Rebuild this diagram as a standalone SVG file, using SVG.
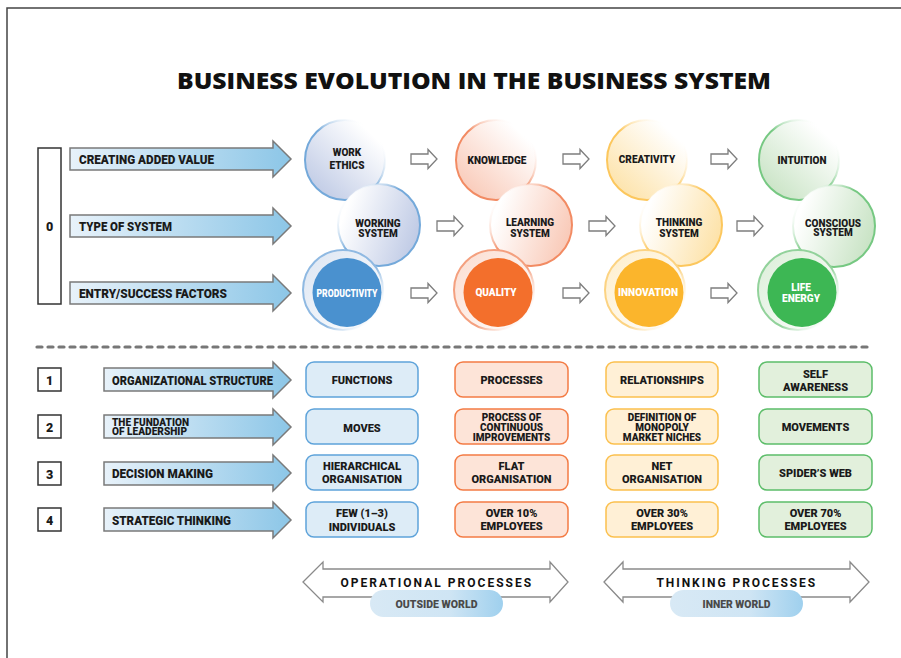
<svg xmlns="http://www.w3.org/2000/svg" width="901" height="658" viewBox="0 0 901 658">
<style>
text{font-family:Roboto,"Liberation Sans",sans-serif;font-weight:900;fill:#1a1a1a}
.title{font-family:"Open Sans",Roboto,"Liberation Sans",sans-serif;font-size:23px;font-weight:800;fill:#111}
.lbl{font-size:12.5px}
.lbl2{font-size:10px}
.num{font-size:12.5px;text-anchor:middle}
.ct{font-size:10px;text-anchor:middle}
.cw{font-size:10px;text-anchor:middle;fill:#fff}
.bt{font-size:11px;text-anchor:middle}
.bs{font-size:10px;text-anchor:middle}
.big{fill:url(#gArrow);stroke:#7a7a7a;stroke-width:1.5}
.small{fill:#fff;stroke:#7d7d7d;stroke-width:1.3}
.dbl{fill:#fff;stroke:#8a8a8a;stroke-width:1.3}
.nbox{fill:#fff;stroke:#333;stroke-width:1.5}
.bB{fill:#ddecf7;stroke:#5ea3da;stroke-width:1.5}
.bO{fill:#fde4d8;stroke:#f37b44;stroke-width:1.5}
.bY{fill:#fff0d6;stroke:#fbc04d;stroke-width:1.5}
.bG{fill:#e2f0dc;stroke:#5cbd69;stroke-width:1.5}
.proc{font-size:12px;font-weight:700;letter-spacing:2.4px;text-anchor:middle;fill:#111}
.world{font-size:10px;text-anchor:middle;fill:#4a4a4a}
</style>
<defs>
<linearGradient id="gArrow" x1="0" y1="0" x2="1" y2="0"><stop offset="0" stop-color="#e8f2fa"/><stop offset="1" stop-color="#8cc6e7"/></linearGradient>
<linearGradient id="gPill" x1="0" y1="0" x2="1" y2="0"><stop offset="0" stop-color="#d8e9f5"/><stop offset="0.6" stop-color="#cfe5f4"/><stop offset="1" stop-color="#9fd0ee"/></linearGradient>
<linearGradient id="tfB" x1="0.1" y1="0.9" x2="0.8" y2="0.15"><stop offset="0" stop-color="#bfcae5"/><stop offset="1" stop-color="#fff"/></linearGradient>
<linearGradient id="tsB" x1="0.1" y1="0.9" x2="0.85" y2="0.15"><stop offset="0" stop-color="#74a9da"/><stop offset="0.55" stop-color="#74a9da"/><stop offset="1" stop-color="#fff" stop-opacity="0"/></linearGradient>
<linearGradient id="mfB" x1="0.1" y1="0.3" x2="1" y2="0.6"><stop offset="0" stop-color="#fff"/><stop offset="1" stop-color="#bfcae5"/></linearGradient>
<linearGradient id="msB" x1="0.1" y1="0.1" x2="0.8" y2="0.7"><stop offset="0" stop-color="#fff" stop-opacity="0"/><stop offset="0.5" stop-color="#74a9da"/><stop offset="1" stop-color="#74a9da"/></linearGradient>
<linearGradient id="bfB" x1="0" y1="0" x2="1" y2="1"><stop offset="0" stop-color="#dce5f2"/><stop offset="1" stop-color="#fff"/></linearGradient>
<linearGradient id="bsB" x1="0.1" y1="0.2" x2="0.9" y2="0.9"><stop offset="0" stop-color="#8fb9e2"/><stop offset="0.6" stop-color="#8fb9e2"/><stop offset="1" stop-color="#fff" stop-opacity="0"/></linearGradient>
<linearGradient id="tfO" x1="0.1" y1="0.9" x2="0.8" y2="0.15"><stop offset="0" stop-color="#f9c9b7"/><stop offset="1" stop-color="#fff"/></linearGradient>
<linearGradient id="tsO" x1="0.1" y1="0.9" x2="0.85" y2="0.15"><stop offset="0" stop-color="#f28b63"/><stop offset="0.55" stop-color="#f28b63"/><stop offset="1" stop-color="#fff" stop-opacity="0"/></linearGradient>
<linearGradient id="mfO" x1="0.1" y1="0.3" x2="1" y2="0.6"><stop offset="0" stop-color="#fff"/><stop offset="1" stop-color="#f9c9b7"/></linearGradient>
<linearGradient id="msO" x1="0.1" y1="0.1" x2="0.8" y2="0.7"><stop offset="0" stop-color="#fff" stop-opacity="0"/><stop offset="0.5" stop-color="#f28b63"/><stop offset="1" stop-color="#f28b63"/></linearGradient>
<linearGradient id="bfO" x1="0" y1="0" x2="1" y2="1"><stop offset="0" stop-color="#fbdccf"/><stop offset="1" stop-color="#fff"/></linearGradient>
<linearGradient id="bsO" x1="0.1" y1="0.2" x2="0.9" y2="0.9"><stop offset="0" stop-color="#f4a07f"/><stop offset="0.6" stop-color="#f4a07f"/><stop offset="1" stop-color="#fff" stop-opacity="0"/></linearGradient>
<linearGradient id="tfY" x1="0.1" y1="0.9" x2="0.8" y2="0.15"><stop offset="0" stop-color="#fde2a8"/><stop offset="1" stop-color="#fff"/></linearGradient>
<linearGradient id="tsY" x1="0.1" y1="0.9" x2="0.85" y2="0.15"><stop offset="0" stop-color="#fcc75d"/><stop offset="0.55" stop-color="#fcc75d"/><stop offset="1" stop-color="#fff" stop-opacity="0"/></linearGradient>
<linearGradient id="mfY" x1="0.1" y1="0.3" x2="1" y2="0.6"><stop offset="0" stop-color="#fff"/><stop offset="1" stop-color="#fde2a8"/></linearGradient>
<linearGradient id="msY" x1="0.1" y1="0.1" x2="0.8" y2="0.7"><stop offset="0" stop-color="#fff" stop-opacity="0"/><stop offset="0.5" stop-color="#fcc75d"/><stop offset="1" stop-color="#fcc75d"/></linearGradient>
<linearGradient id="bfY" x1="0" y1="0" x2="1" y2="1"><stop offset="0" stop-color="#feeecb"/><stop offset="1" stop-color="#fff"/></linearGradient>
<linearGradient id="bsY" x1="0.1" y1="0.2" x2="0.9" y2="0.9"><stop offset="0" stop-color="#fcd382"/><stop offset="0.6" stop-color="#fcd382"/><stop offset="1" stop-color="#fff" stop-opacity="0"/></linearGradient>
<linearGradient id="tfG" x1="0.1" y1="0.9" x2="0.8" y2="0.15"><stop offset="0" stop-color="#c8e3c4"/><stop offset="1" stop-color="#fff"/></linearGradient>
<linearGradient id="tsG" x1="0.1" y1="0.9" x2="0.85" y2="0.15"><stop offset="0" stop-color="#76c882"/><stop offset="0.55" stop-color="#76c882"/><stop offset="1" stop-color="#fff" stop-opacity="0"/></linearGradient>
<linearGradient id="mfG" x1="0.1" y1="0.3" x2="1" y2="0.6"><stop offset="0" stop-color="#fff"/><stop offset="1" stop-color="#c8e3c4"/></linearGradient>
<linearGradient id="msG" x1="0.1" y1="0.1" x2="0.8" y2="0.7"><stop offset="0" stop-color="#fff" stop-opacity="0"/><stop offset="0.5" stop-color="#76c882"/><stop offset="1" stop-color="#76c882"/></linearGradient>
<linearGradient id="bfG" x1="0" y1="0" x2="1" y2="1"><stop offset="0" stop-color="#dbeed8"/><stop offset="1" stop-color="#fff"/></linearGradient>
<linearGradient id="bsG" x1="0.1" y1="0.2" x2="0.9" y2="0.9"><stop offset="0" stop-color="#92d29b"/><stop offset="0.6" stop-color="#92d29b"/><stop offset="1" stop-color="#fff" stop-opacity="0"/></linearGradient>
</defs>

<rect width="901" height="658" fill="#fff"/>
<path d="M7,658 V8 H901" fill="none" stroke="#444" stroke-width="1.5"/>

<text class="title" x="474" y="89" text-anchor="middle" textLength="594" lengthAdjust="spacingAndGlyphs">BUSINESS EVOLUTION IN THE BUSINESS SYSTEM</text>

<g id="row0">
<rect class="nbox" x="38" y="148" width="23" height="156"/>
<text class="num" x="49.5" y="231">0</text>
</g>
<g id="label-added-value">
<path class="big" d="M70,148 H273 V141 L291,159 L273,177 V170 H70 Z"/>
<text class="lbl" x="79" y="163.5" textLength="135" lengthAdjust="spacingAndGlyphs">CREATING ADDED VALUE</text>
</g>
<g id="label-type-system">
<path class="big" d="M70,215 H273 V208 L291,226 L273,244 V237 H70 Z"/>
<text class="lbl" x="79" y="230.5" textLength="93" lengthAdjust="spacingAndGlyphs">TYPE OF SYSTEM</text>
</g>
<g id="label-entry">
<path class="big" d="M70,282 H273 V275 L291,293 L273,311 V304 H70 Z"/>
<text class="lbl" x="79" y="297.5" textLength="148" lengthAdjust="spacingAndGlyphs">ENTRY/SUCCESS FACTORS</text>
</g>

<g id="node-work-ethics">
<circle cx="345" cy="160" r="40" fill="url(#tfB)" stroke="url(#tsB)" stroke-width="2"/>
<text class="ct" x="347" y="155.5">WORK</text>
<text class="ct" x="347" y="168.5">ETHICS</text>
</g>
<g id="node-working-system">
<circle cx="379" cy="225" r="41" fill="url(#mfB)" stroke="url(#msB)" stroke-width="2"/>
<text class="ct" x="378" y="226.5">WORKING</text>
<text class="ct" x="378" y="237">SYSTEM</text>
</g>
<g id="node-productivity">
<circle cx="343" cy="290" r="40" fill="url(#bfB)" stroke="url(#bsB)" stroke-width="2"/>
<circle cx="347" cy="292.5" r="34.5" fill="#4a91cf"/>
<text class="cw" x="347" y="296.5" textLength="61" lengthAdjust="spacingAndGlyphs">PRODUCTIVITY</text>
</g>

<g id="node-knowledge">
<circle cx="496" cy="160" r="40" fill="url(#tfO)" stroke="url(#tsO)" stroke-width="2"/>
<text class="ct" x="497" y="163.5">KNOWLEDGE</text>
</g>
<g id="node-learning-system">
<circle cx="531" cy="225" r="41" fill="url(#mfO)" stroke="url(#msO)" stroke-width="2"/>
<text class="ct" x="530" y="226">LEARNING</text>
<text class="ct" x="530" y="236.5">SYSTEM</text>
</g>
<g id="node-quality">
<circle cx="494" cy="290" r="40" fill="url(#bfO)" stroke="url(#bsO)" stroke-width="2"/>
<circle cx="498" cy="292.5" r="34.5" fill="#f36f2c"/>
<text class="cw" x="496" y="296" textLength="41" lengthAdjust="spacingAndGlyphs">QUALITY</text>
</g>

<g id="node-creativity">
<circle cx="647" cy="160" r="40" fill="url(#tfY)" stroke="url(#tsY)" stroke-width="2"/>
<text class="ct" x="647" y="162.5">CREATIVITY</text>
</g>
<g id="node-thinking-system">
<circle cx="681" cy="225" r="41" fill="url(#mfY)" stroke="url(#msY)" stroke-width="2"/>
<text class="ct" x="679" y="226">THINKING</text>
<text class="ct" x="679" y="236.5">SYSTEM</text>
</g>
<g id="node-innovation">
<circle cx="645" cy="290" r="40" fill="url(#bfY)" stroke="url(#bsY)" stroke-width="2"/>
<circle cx="649" cy="292.5" r="34.5" fill="#fbb52c"/>
<text class="cw" x="648" y="296" textLength="60" lengthAdjust="spacingAndGlyphs">INNOVATION</text>
</g>

<g id="node-intuition">
<circle cx="799" cy="160" r="40" fill="url(#tfG)" stroke="url(#tsG)" stroke-width="2"/>
<text class="ct" x="802" y="163.5">INTUITION</text>
</g>
<g id="node-conscious-system">
<circle cx="834" cy="226" r="41" fill="url(#mfG)" stroke="url(#msG)" stroke-width="2"/>
<text class="ct" x="833" y="226.5">CONSCIOUS</text>
<text class="ct" x="833" y="236">SYSTEM</text>
</g>
<g id="node-life-energy">
<circle cx="798" cy="290" r="40" fill="url(#bfG)" stroke="url(#bsG)" stroke-width="2"/>
<circle cx="802" cy="292.5" r="34.5" fill="#3db754"/>
<text class="cw" x="801" y="290.5">LIFE</text>
<text class="cw" x="801" y="301.5">ENERGY</text>
</g>

<g id="connectors">
<path class="small" d="M411,154 H428 V149.5 L437,159 L428,168.5 V164 H411 Z"/>
<path class="small" d="M563,154 H580 V149.5 L589,159 L580,168.5 V164 H563 Z"/>
<path class="small" d="M711,154 H728 V149.5 L737,159 L728,168.5 V164 H711 Z"/>
<path class="small" d="M437,221 H454 V216.5 L463,226 L454,235.5 V231 H437 Z"/>
<path class="small" d="M589,221 H606 V216.5 L615,226 L606,235.5 V231 H589 Z"/>
<path class="small" d="M737,221 H754 V216.5 L763,226 L754,235.5 V231 H737 Z"/>
<path class="small" d="M411,288 H428 V283.5 L437,293 L428,302.5 V298 H411 Z"/>
<path class="small" d="M563,288 H580 V283.5 L589,293 L580,302.5 V298 H563 Z"/>
<path class="small" d="M711,288 H728 V283.5 L737,293 L728,302.5 V298 H711 Z"/>
</g>

<line x1="37" y1="347" x2="873" y2="347" stroke="#777" stroke-width="3.2" stroke-dasharray="5 6" stroke-linecap="round"/>

<g id="row1">
<rect class="nbox" x="38" y="368" width="23" height="23"/>
<text class="num" x="49.5" y="384.5">1</text>
<path class="big" d="M104,368 H273 V362 L291,380 L273,398 V391 H104 Z"/>
<text class="lbl" x="112" y="384.5" textLength="161" lengthAdjust="spacingAndGlyphs">ORGANIZATIONAL STRUCTURE</text>
</g>
<g id="row2">
<rect class="nbox" x="38" y="415" width="23" height="23"/>
<text class="num" x="49.5" y="431.5">2</text>
<path class="big" d="M104,415 H273 V409 L291,427 L273,445 V438 H104 Z"/>
<text class="lbl2" x="112" y="425.5" textLength="77" lengthAdjust="spacingAndGlyphs">THE FUNDATION</text>
<text class="lbl2" x="112" y="435" textLength="75" lengthAdjust="spacingAndGlyphs">OF LEADERSHIP</text>
</g>
<g id="row3">
<rect class="nbox" x="38" y="462" width="23" height="23"/>
<text class="num" x="49.5" y="478.5">3</text>
<path class="big" d="M104,462 H273 V455 L291,473 L273,491 V485 H104 Z"/>
<text class="lbl" x="112" y="477.5" textLength="101" lengthAdjust="spacingAndGlyphs">DECISION MAKING</text>
</g>
<g id="row4">
<rect class="nbox" x="38" y="508" width="23" height="23"/>
<text class="num" x="49.5" y="524.5">4</text>
<path class="big" d="M104,508 H273 V502 L291,520 L273,538 V531 H104 Z"/>
<text class="lbl" x="112" y="524.5" textLength="119" lengthAdjust="spacingAndGlyphs">STRATEGIC THINKING</text>
</g>

<g id="box-functions"><rect class="bB" x="306" y="362" width="112" height="35" rx="8"/><text class="bt" x="362" y="384">FUNCTIONS</text></g>
<g id="box-moves"><rect class="bB" x="306" y="409" width="112" height="35" rx="8"/><text class="bt" x="362" y="431.5">MOVES</text></g>
<g id="box-hierarchical"><rect class="bB" x="306" y="455" width="112" height="35" rx="8"/><text class="bt" x="362" y="469.5">HIERARCHICAL</text><text class="bt" x="362" y="483">ORGANISATION</text></g>
<g id="box-few"><rect class="bB" x="306" y="502" width="112" height="35" rx="8"/><text class="bt" x="362" y="516.5">FEW  (1–3)</text><text class="bt" x="362" y="530.5">INDIVIDUALS</text></g>

<g id="box-processes"><rect class="bO" x="455" y="362" width="113" height="35" rx="8"/><text class="bt" x="511.5" y="384">PROCESSES</text></g>
<g id="box-continuous"><rect class="bO" x="455" y="409" width="113" height="35" rx="8"/><text class="bs" x="511.5" y="420.5">PROCESS OF</text><text class="bs" x="511.5" y="430.5">CONTINUOUS</text><text class="bs" x="511.5" y="440.5">IMPROVEMENTS</text></g>
<g id="box-flat"><rect class="bO" x="455" y="455" width="113" height="35" rx="8"/><text class="bt" x="511.5" y="469.5">FLAT</text><text class="bt" x="511.5" y="483">ORGANISATION</text></g>
<g id="box-over10"><rect class="bO" x="455" y="502" width="113" height="35" rx="8"/><text class="bt" x="511.5" y="516.5">OVER 10%</text><text class="bt" x="511.5" y="530">EMPLOYEES</text></g>

<g id="box-relationships"><rect class="bY" x="606" y="362" width="112" height="35" rx="8"/><text class="bt" x="662" y="384">RELATIONSHIPS</text></g>
<g id="box-monopoly"><rect class="bY" x="606" y="409" width="112" height="35" rx="8"/><text class="bs" x="662" y="420.5">DEFINITION OF</text><text class="bs" x="662" y="430.5">MONOPOLY</text><text class="bs" x="662" y="440.5">MARKET NICHES</text></g>
<g id="box-net"><rect class="bY" x="606" y="455" width="112" height="35" rx="8"/><text class="bt" x="662" y="469.5">NET</text><text class="bt" x="662" y="483">ORGANISATION</text></g>
<g id="box-over30"><rect class="bY" x="606" y="502" width="112" height="35" rx="8"/><text class="bt" x="662" y="516.5">OVER 30%</text><text class="bt" x="662" y="530">EMPLOYEES</text></g>

<g id="box-self"><rect class="bG" x="759" y="362" width="113" height="35" rx="8"/><text class="bt" x="815.5" y="377.5">SELF</text><text class="bt" x="815.5" y="390.5">AWARENESS</text></g>
<g id="box-movements"><rect class="bG" x="759" y="409" width="113" height="35" rx="8"/><text class="bt" x="815.5" y="431">MOVEMENTS</text></g>
<g id="box-spider"><rect class="bG" x="759" y="455" width="113" height="35" rx="8"/><text class="bt" x="815.5" y="477">SPIDER’S WEB</text></g>
<g id="box-over70"><rect class="bG" x="759" y="502" width="113" height="35" rx="8"/><text class="bt" x="815.5" y="516.5">OVER 70%</text><text class="bt" x="815.5" y="530">EMPLOYEES</text></g>

<g id="operational">
<path class="dbl" d="M303,582 L323,562 V569 H550 V562 L568,582 L550,602 V597 H323 V602 Z"/>
<text class="proc" x="437" y="587" textLength="193" lengthAdjust="spacing">OPERATIONAL PROCESSES</text>
<rect x="370" y="590" width="133" height="27" rx="13.5" fill="url(#gPill)"/>
<text class="world" x="436.5" y="607.5" textLength="82" lengthAdjust="spacingAndGlyphs">OUTSIDE WORLD</text>
</g>
<g id="thinking">
<path class="dbl" d="M604,582 L623,562 V569 H850 V562 L869,582 L850,602 V597 H623 V602 Z"/>
<text class="proc" x="737" y="587" textLength="161" lengthAdjust="spacing">THINKING PROCESSES</text>
<rect x="670" y="590" width="133" height="27" rx="13.5" fill="url(#gPill)"/>
<text class="world" x="736.5" y="607.5" textLength="68" lengthAdjust="spacingAndGlyphs">INNER WORLD</text>
</g>
</svg>
